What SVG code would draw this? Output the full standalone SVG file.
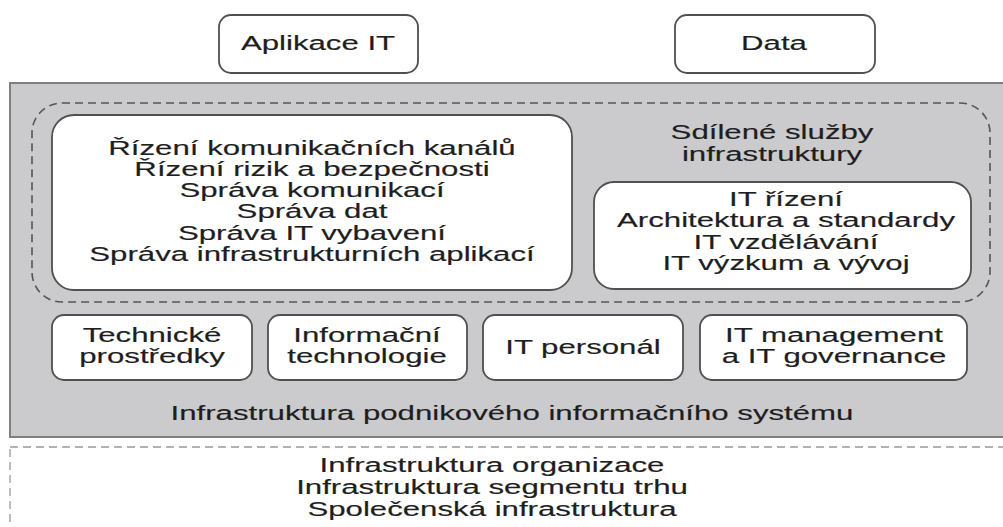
<svg xmlns="http://www.w3.org/2000/svg" width="1003" height="527" viewBox="0 0 1003 527">
<style>
text{font-family:"Liberation Sans",Arial,sans-serif;font-size:19.5px;fill:#1e1e1e;text-anchor:middle;stroke:#1e1e1e;stroke-width:0.15}
.box{fill:#fff;stroke:#505050;stroke-width:1.8}
.dash{fill:none;stroke:#555;stroke-width:1.6;stroke-dasharray:8 5}
.outer{fill:#fff;stroke:#999;stroke-width:1.3;stroke-dasharray:8 5}
</style>
<rect width="1003" height="527" fill="#fff"/>
<g id="app">
<rect class="box" x="219" y="15" width="199" height="58" rx="12"/>
<text transform="translate(318 50) scale(1.6 1)">Aplikace IT</text>
</g>
<g id="data">
<rect class="box" x="675" y="15" width="200" height="58" rx="12"/>
<text transform="translate(774 50) scale(1.6 1)">Data</text>
</g>
<g id="infra-is">
<rect x="10" y="83" width="1010" height="354" fill="#cbcbcd" stroke="#808080" stroke-width="2"/>
<text transform="translate(512 420) scale(1.6 1)">Infrastruktura podnikového informačního systému</text>
</g>
<g id="shared">
<rect class="dash" x="32" y="103" width="958" height="199" rx="30"/>
<g transform="translate(772 0) scale(1.6 1)">
<text y="139">Sdílené služby</text>
<text y="161">infrastruktury</text>
</g>
</g>
<g id="mgmt">
<rect class="box" x="52" y="115" width="520" height="175" rx="22"/>
<g transform="translate(312 0) scale(1.6 1)">
<text y="155">Řízení komunikačních kanálů</text>
<text y="176">Řízení rizik a bezpečnosti</text>
<text y="197">Správa komunikací</text>
<text y="218">Správa dat</text>
<text y="240">Správa IT vybavení</text>
<text y="261">Správa infrastrukturních aplikací</text>
</g>
</g>
<g id="it">
<rect class="box" x="594" y="182" width="377" height="107" rx="20"/>
<g transform="translate(786 0) scale(1.6 1)">
<text y="206">IT řízení</text>
<text y="227">Architektura a standardy</text>
<text y="249">IT vzdělávání</text>
<text y="270">IT výzkum a vývoj</text>
</g>
</g>
<g id="tech">
<rect class="box" x="52" y="315" width="200" height="65" rx="12"/>
<g transform="translate(152 0) scale(1.6 1)">
<text y="342">Technické</text>
<text y="363">prostředky</text>
</g>
</g>
<g id="infotech">
<rect class="box" x="268" y="315" width="199" height="65" rx="12"/>
<g transform="translate(367 0) scale(1.6 1)">
<text y="342">Informační</text>
<text y="363">technologie</text>
</g>
</g>
<g id="staff">
<rect class="box" x="483" y="315" width="200" height="65" rx="12"/>
<text transform="translate(583 354) scale(1.6 1)">IT personál</text>
</g>
<g id="gov">
<rect class="box" x="700" y="315" width="267" height="65" rx="12"/>
<g transform="translate(834 0) scale(1.6 1)">
<text y="342">IT management</text>
<text y="363">a IT governance</text>
</g>
</g>
<g id="external">
<rect class="outer" x="10" y="447" width="1010" height="100"/>
<g transform="translate(492 0) scale(1.6 1)">
<text y="472">Infrastruktura organizace</text>
<text y="494">Infrastruktura segmentu trhu</text>
<text y="516">Společenská infrastruktura</text>
</g>
</g>
<g id="connectors"></g>
</svg>
